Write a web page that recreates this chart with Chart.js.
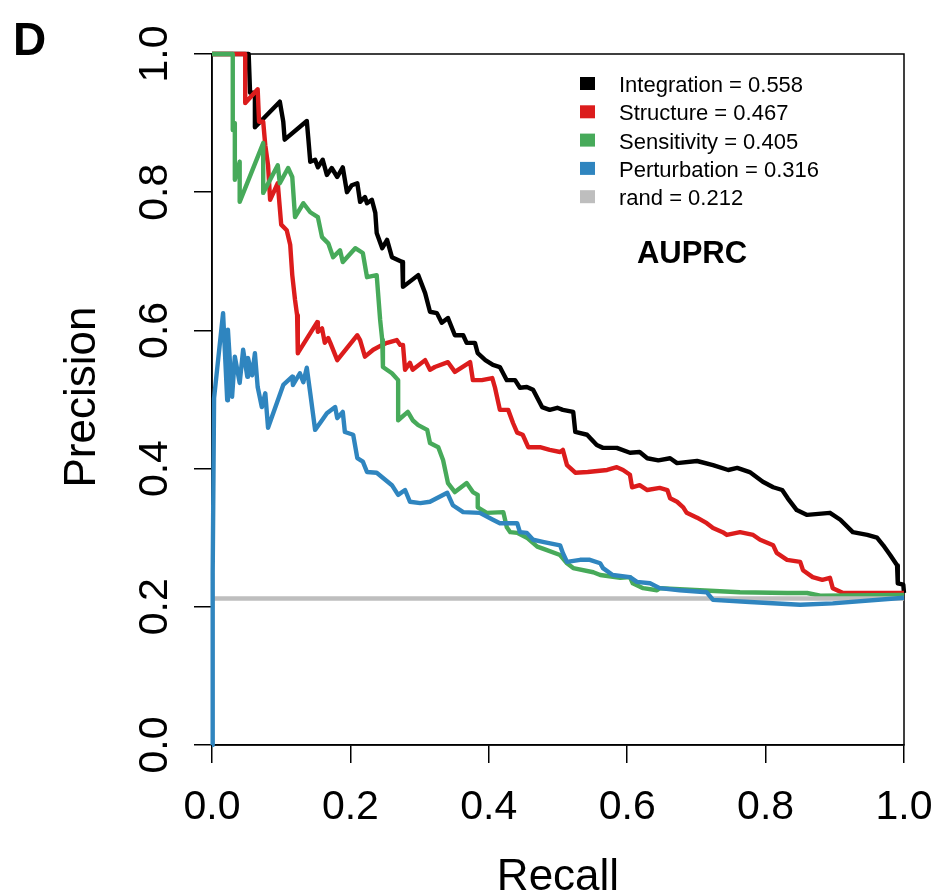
<!DOCTYPE html>
<html>
<head>
<meta charset="utf-8">
<script src="https://cdn.jsdelivr.net/npm/chart.js@4.4.1/dist/chart.umd.min.js"></script>
<style>
  body { margin: 0; background: #fff; }
</style>
</head>
<body>
<canvas id="pr_chart" width="936" height="894"></canvas>
<script>
// precision-recall curves
const seriesNames = ['Integration', 'Structure', 'Sensitivity', 'Perturbation', 'rand'];
const auprc = [0.558, 0.467, 0.405, 0.316, 0.212];
const xTicks = [0, 0.2, 0.4, 0.6, 0.8, 1.0];
const yTicks = [0, 0.2, 0.4, 0.6, 0.8, 1.0];

const intRecall = [0, 0.053, 0.055, 0.062, 0.062, 0.098, 0.103, 0.105, 0.137, 0.139, 0.142, 0.149, 0.153, 0.160, 0.166, 0.173, 0.181, 0.189, 0.195, 0.202, 0.210, 0.214, 0.221, 0.224, 0.231, 0.236, 0.238, 0.246, 0.253, 0.260, 0.275, 0.276, 0.298, 0.308, 0.315, 0.325, 0.332, 0.341, 0.351, 0.363, 0.368, 0.380, 0.384, 0.395, 0.406, 0.416, 0.426, 0.438, 0.445, 0.455, 0.464, 0.477, 0.488, 0.499, 0.507, 0.522, 0.525, 0.542, 0.556, 0.565, 0.585, 0.604, 0.618, 0.629, 0.645, 0.662, 0.672, 0.701, 0.724, 0.746, 0.759, 0.777, 0.796, 0.811, 0.824, 0.832, 0.845, 0.860, 0.893, 0.908, 0.926, 0.947, 0.961, 0.970, 0.980, 0.990, 0.991, 0.999, 1.0];
const intPrec = [1.0, 1.0, 0.944, 0.944, 0.894, 0.931, 0.902, 0.876, 0.903, 0.880, 0.844, 0.847, 0.836, 0.847, 0.825, 0.835, 0.822, 0.836, 0.800, 0.810, 0.813, 0.786, 0.793, 0.784, 0.789, 0.770, 0.741, 0.719, 0.731, 0.706, 0.699, 0.663, 0.680, 0.654, 0.627, 0.625, 0.611, 0.618, 0.593, 0.593, 0.582, 0.582, 0.567, 0.557, 0.550, 0.547, 0.528, 0.528, 0.517, 0.518, 0.514, 0.489, 0.485, 0.488, 0.485, 0.482, 0.453, 0.449, 0.434, 0.430, 0.430, 0.423, 0.424, 0.415, 0.412, 0.415, 0.408, 0.411, 0.405, 0.398, 0.401, 0.395, 0.381, 0.373, 0.369, 0.357, 0.340, 0.333, 0.336, 0.326, 0.308, 0.304, 0.300, 0.289, 0.275, 0.260, 0.234, 0.232, 0.220];

const strRecall = [0, 0.048, 0.048, 0.066, 0.068, 0.074, 0.077, 0.081, 0.084, 0.095, 0.100, 0.108, 0.113, 0.116, 0.120, 0.123, 0.124, 0.152, 0.153, 0.159, 0.163, 0.168, 0.171, 0.181, 0.210, 0.214, 0.221, 0.233, 0.246, 0.253, 0.267, 0.272, 0.276, 0.279, 0.286, 0.290, 0.308, 0.315, 0.322, 0.341, 0.351, 0.373, 0.377, 0.390, 0.405, 0.409, 0.416, 0.428, 0.435, 0.441, 0.449, 0.457, 0.474, 0.488, 0.503, 0.507, 0.513, 0.525, 0.543, 0.571, 0.585, 0.594, 0.604, 0.607, 0.618, 0.629, 0.647, 0.658, 0.662, 0.672, 0.681, 0.686, 0.701, 0.715, 0.724, 0.738, 0.744, 0.763, 0.782, 0.792, 0.811, 0.816, 0.831, 0.850, 0.854, 0.868, 0.882, 0.893, 0.897, 0.912, 0.965, 1.0];
const strPrec = [1.0, 1.0, 0.929, 0.949, 0.902, 0.902, 0.868, 0.839, 0.789, 0.813, 0.753, 0.745, 0.724, 0.680, 0.644, 0.622, 0.567, 0.612, 0.598, 0.603, 0.582, 0.589, 0.582, 0.557, 0.593, 0.586, 0.562, 0.572, 0.579, 0.582, 0.586, 0.579, 0.579, 0.543, 0.553, 0.543, 0.557, 0.543, 0.547, 0.554, 0.540, 0.554, 0.528, 0.528, 0.531, 0.517, 0.485, 0.485, 0.466, 0.452, 0.449, 0.431, 0.431, 0.427, 0.424, 0.427, 0.405, 0.394, 0.395, 0.398, 0.402, 0.398, 0.391, 0.373, 0.376, 0.369, 0.372, 0.369, 0.357, 0.352, 0.344, 0.336, 0.329, 0.321, 0.314, 0.308, 0.304, 0.308, 0.304, 0.297, 0.289, 0.278, 0.268, 0.265, 0.253, 0.243, 0.239, 0.242, 0.227, 0.220, 0.220, 0.220];

const senRecall = [0, 0.030, 0.030, 0.033, 0.033, 0.040, 0.040, 0.074, 0.074, 0.095, 0.098, 0.110, 0.116, 0.120, 0.132, 0.142, 0.153, 0.159, 0.168, 0.175, 0.185, 0.189, 0.207, 0.218, 0.224, 0.238, 0.243, 0.246, 0.247, 0.260, 0.269, 0.269, 0.283, 0.290, 0.298, 0.311, 0.315, 0.327, 0.334, 0.341, 0.351, 0.368, 0.377, 0.384, 0.384, 0.397, 0.421, 0.426, 0.431, 0.441, 0.455, 0.470, 0.484, 0.503, 0.513, 0.522, 0.551, 0.561, 0.590, 0.604, 0.608, 0.623, 0.643, 0.647, 0.705, 0.763, 0.831, 0.860, 0.879, 1.0];
const senPrec = [1.0, 1.0, 0.890, 0.900, 0.818, 0.844, 0.786, 0.871, 0.799, 0.839, 0.813, 0.835, 0.822, 0.764, 0.784, 0.771, 0.764, 0.735, 0.726, 0.706, 0.716, 0.699, 0.719, 0.712, 0.677, 0.680, 0.615, 0.586, 0.547, 0.538, 0.528, 0.470, 0.482, 0.470, 0.463, 0.456, 0.437, 0.431, 0.412, 0.379, 0.366, 0.379, 0.366, 0.362, 0.344, 0.336, 0.337, 0.315, 0.308, 0.307, 0.300, 0.287, 0.282, 0.275, 0.263, 0.256, 0.250, 0.246, 0.242, 0.243, 0.234, 0.227, 0.224, 0.227, 0.224, 0.221, 0.220, 0.220, 0.216, 0.217];

const perRecall = [0, 0.001, 0.003, 0.016, 0.022, 0.023, 0.029, 0.033, 0.040, 0.045, 0.051, 0.052, 0.058, 0.062, 0.066, 0.072, 0.077, 0.081, 0.103, 0.116, 0.117, 0.127, 0.132, 0.137, 0.142, 0.149, 0.159, 0.166, 0.178, 0.181, 0.189, 0.192, 0.204, 0.210, 0.218, 0.224, 0.238, 0.260, 0.269, 0.279, 0.286, 0.301, 0.315, 0.340, 0.348, 0.363, 0.387, 0.406, 0.416, 0.441, 0.445, 0.455, 0.464, 0.478, 0.503, 0.507, 0.513, 0.532, 0.546, 0.561, 0.565, 0.579, 0.604, 0.614, 0.633, 0.647, 0.676, 0.715, 0.724, 0.777, 0.850, 0.897, 1.0];
const perPrec = [0, 0.249, 0.502, 0.625, 0.499, 0.601, 0.504, 0.562, 0.524, 0.572, 0.533, 0.560, 0.535, 0.567, 0.518, 0.489, 0.509, 0.459, 0.521, 0.533, 0.521, 0.538, 0.525, 0.546, 0.509, 0.456, 0.470, 0.480, 0.489, 0.473, 0.482, 0.453, 0.449, 0.415, 0.410, 0.395, 0.394, 0.376, 0.362, 0.369, 0.352, 0.350, 0.352, 0.365, 0.347, 0.337, 0.336, 0.326, 0.321, 0.321, 0.308, 0.307, 0.297, 0.294, 0.289, 0.278, 0.265, 0.268, 0.268, 0.263, 0.256, 0.246, 0.243, 0.236, 0.234, 0.227, 0.224, 0.221, 0.210, 0.207, 0.203, 0.205, 0.213];

const randRecall = [0, 1];
const randPrec = [auprc[4], auprc[4]];

const colors = ['#000000', '#DC1C1C', '#47AA5A', '#2F85BF', '#BEBEBE'];
const FONT = '"Liberation Sans", Arial, Helvetica, sans-serif';

function pts(xs, ys) {
  return xs.map((x, i) => ({ x: x, y: ys[i] }));
}

function curve(idx, xs, ys, order, width) {
  return {
    label: seriesNames[idx],
    data: pts(xs, ys),
    showLine: true,
    borderColor: colors[idx],
    backgroundColor: colors[idx],
    borderWidth: width,
    borderJoinStyle: 'round',
    borderCapStyle: 'butt',
    pointRadius: 0,
    tension: 0,
    fill: false,
    clip: 6,
    order: order
  };
}

// frame, tick labels, titles and legend drawn on top
const decor = {
  id: 'decor',
  beforeDatasetsDraw(chart) {
    const { ctx, chartArea: a } = chart;
    ctx.save();
    ctx.strokeStyle = '#000';
    ctx.lineWidth = 1.5;
    ctx.strokeRect(a.left, a.top, a.right - a.left, a.bottom - a.top);
    ctx.restore();
  },
  afterDraw(chart) {
    const ctx = chart.ctx;
    const xs = chart.scales.x, ys = chart.scales.y;
    ctx.save();
    ctx.fillStyle = '#000';

    // x tick labels
    ctx.font = '41px ' + FONT;
    ctx.textAlign = 'center';
    ctx.textBaseline = 'alphabetic';
    xTicks.forEach(v => ctx.fillText(v.toFixed(1), xs.getPixelForValue(v), 819));

    // y tick labels, rotated
    yTicks.forEach(v => {
      ctx.save();
      ctx.translate(167, ys.getPixelForValue(v));
      ctx.rotate(-Math.PI / 2);
      ctx.fillText(v.toFixed(1), 0, 0);
      ctx.restore();
    });

    // axis titles
    ctx.font = '44px ' + FONT;
    ctx.fillText('Recall', (xs.left + xs.right) / 2, 890);
    ctx.save();
    ctx.translate(95, 397);
    ctx.rotate(-Math.PI / 2);
    ctx.fillText('Precision', 0, 0);
    ctx.restore();

    // panel letter
    ctx.font = 'bold 46px ' + FONT;
    ctx.textAlign = 'left';
    ctx.fillText('D', 13, 55);

    // legend
    ctx.font = '22px ' + FONT;
    seriesNames.forEach((name, i) => {
      const base = 92 + i * 28.3;
      ctx.fillStyle = colors[i];
      ctx.fillRect(580, base - 15, 15, 13);
      ctx.fillStyle = '#000';
      ctx.fillText(name + ' = ' + auprc[i].toFixed(3), 619, base);
    });

    ctx.font = 'bold 31px ' + FONT;
    ctx.textAlign = 'center';
    ctx.fillText('AUPRC', 692, 263);
    ctx.restore();
  }
};

const PR = document.getElementById('pr_chart').getContext('2d');
new Chart(PR, {
  type: 'scatter',
  data: {
    datasets: [
      curve(0, intRecall, intPrec, 6, 4.4),
      curve(1, strRecall, strPrec, 5, 4.4),
      curve(2, senRecall, senPrec, 4, 4.4),
      curve(4, randRecall, randPrec, 3, 4.5),
      curve(3, perRecall, perPrec, 2, 4.4)
    ]
  },
  options: {
    responsive: false,
    animation: false,
    devicePixelRatio: 1,
    layout: { padding: { top: 54, right: 32, left: 0, bottom: 0 } },
    plugins: {
      legend: { display: false },
      tooltip: { enabled: false }
    },
    scales: {
      x: {
        type: 'linear',
        min: 0,
        max: 1,
        afterFit: s => { s.height = 149; },
        afterBuildTicks: s => { s.ticks = xTicks.map(v => ({ value: v })); },
        ticks: { display: false },
        border: { display: true, color: '#000', width: 1.5 },
        grid: { drawOnChartArea: false, drawTicks: true, tickLength: 18, tickColor: '#000', lineWidth: 1.5 }
      },
      y: {
        type: 'linear',
        min: 0,
        max: 1,
        afterFit: s => { s.width = 212; },
        afterBuildTicks: s => { s.ticks = yTicks.map(v => ({ value: v })); },
        ticks: { display: false },
        border: { display: true, color: '#000', width: 1.5 },
        grid: { drawOnChartArea: false, drawTicks: true, tickLength: 18, tickColor: '#000', lineWidth: 1.5 }
      }
    }
  },
  plugins: [decor]
});
</script>
</body>
</html>
